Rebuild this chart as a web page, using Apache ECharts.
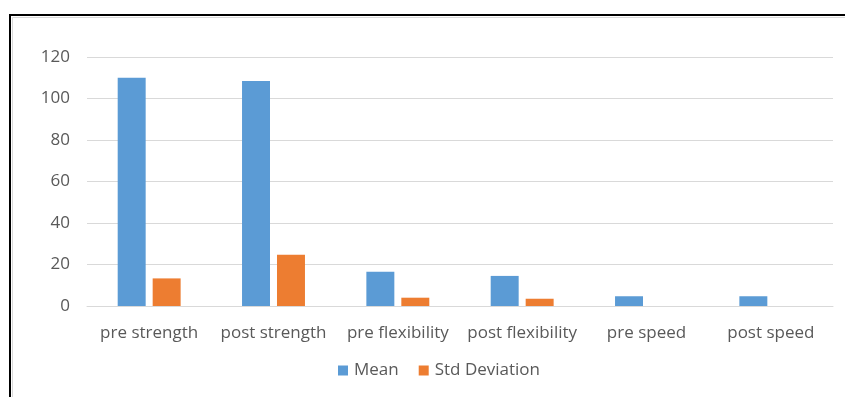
<!DOCTYPE html>
<html><head><meta charset="utf-8">
<script src="https://cdn.jsdelivr.net/npm/echarts@6/dist/echarts.min.js"></script>
<style>html,body{margin:0;padding:0;background:#fff;}#c{width:845px;height:397px;}</style>
</head><body><div id="c"></div>
<script>
const categories = ['pre strength','post strength','pre flexibility','post flexibility','pre speed','post speed'];
const meanValues = [110, 108.4, 16.5, 14.5, 4.7, 4.7];
const stdValues = [13.3, 24.7, 4.0, 3.5, 0, 0];
const yTicks = [0, 20, 40, 60, 80, 100, 120];

const chart = echarts.init(document.getElementById('c'), null, {renderer:'canvas'});
const font = 'Open Sans';
chart.setOption({
  animation: false,
  backgroundColor: '#fff',
  graphic: [
    {type:'rect', shape:{x:10, y:15, width:900, height:500}, style:{fill:'none', stroke:'#000', lineWidth:2}, z:100},
    {type:'rect', shape:{x:12.5, y:17.5, width:900, height:500}, style:{fill:'none', stroke:'#d9d9d9', lineWidth:1}, z:100}
  ],
  grid: {left: 87, right: 12, top: 57, bottom: 91, containLabel: false},
  legend: {
    data: ['Mean','Std Deviation'],
    left: 333, top: 357,
    itemWidth: 10, itemHeight: 10, itemGap: 20,
    icon: 'rect',
    textStyle: {fontFamily: font, fontSize: 17, color: '#595959', padding: [0,0,0,1]}
  },
  xAxis: {
    type: 'category', data: categories,
    axisLine: {lineStyle: {color: '#d9d9d9', width: 1}},
    axisTick: {show: false},
    axisLabel: {fontFamily: font, fontSize: 17, color: '#595959', margin: 19, interval: 0}
  },
  yAxis: {
    type: 'value', min: 0, max: 120, interval: 20,
    axisLine: {show: false}, axisTick: {show: false},
    axisLabel: {fontFamily: font, fontSize: 17, color: '#595959', margin: 17,
      formatter: v => yTicks.includes(v) ? String(v) : ''},
    splitLine: {lineStyle: {color: '#d9d9d9', width: 1}}
  },
  series: [
    {name:'Mean', type:'bar', data: meanValues, barWidth: '22.5%', barGap: '25%',
     itemStyle:{color:'#5B9BD5'}},
    {name:'Std Deviation', type:'bar', data: stdValues, barWidth: '22.5%',
     itemStyle:{color:'#ED7D31'}}
  ]
});
</script></body></html>
